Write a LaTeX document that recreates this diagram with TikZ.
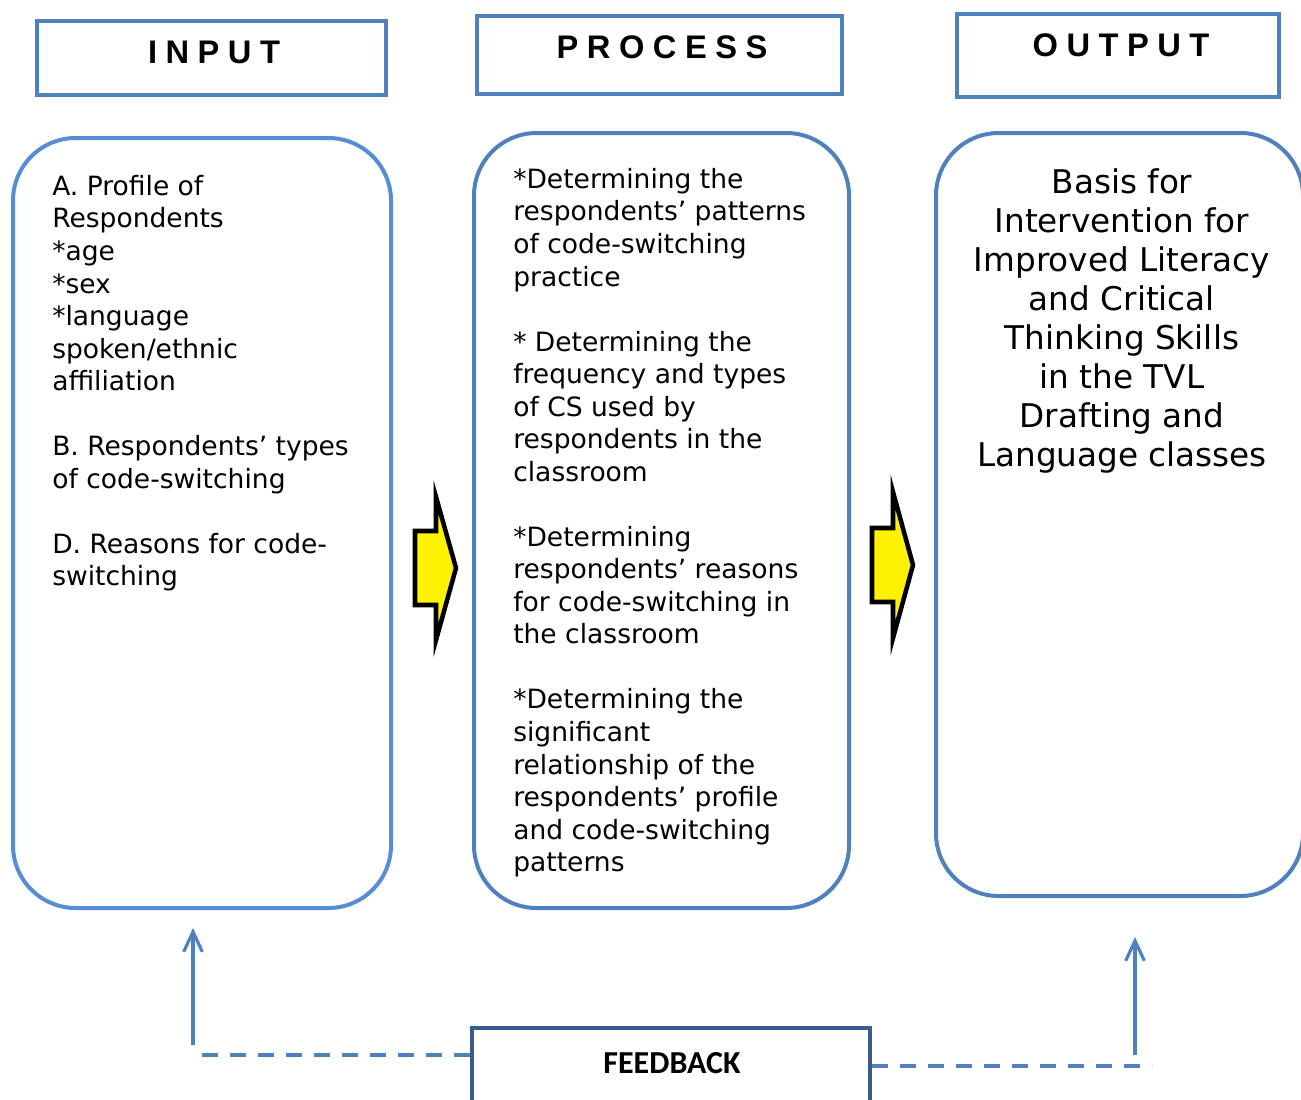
\documentclass[tikz,border=0pt]{standalone}
\usepackage{fontspec}
\setmainfont{DejaVu Sans}
\newfontfamily\headfont[LetterSpace=26]{Liberation Sans}
\newfontfamily\fbfont{Carlito}
\usetikzlibrary{fit,arrows.meta}
\definecolor{headblue}{RGB}{79,129,189}
\definecolor{lightblue}{RGB}{85,142,213}
\definecolor{fbblue}{RGB}{56,93,138}
\tikzset{
  headbox/.style={draw=headblue, line width=3pt, inner sep=0pt},
  headtext/.style={font=\headfont\bfseries\fontsize{24.5}{28}\selectfont, inner sep=0pt},
  roundbox/.style={draw=headblue, line width=3pt, rounded corners=47pt, inner sep=0pt},
  bodytext/.style={font=\fontsize{19.9}{24.4}\selectfont, align=left, inner sep=0pt, anchor=north west},
  flowarrow/.style={draw=black, fill=yellow, line width=3.4pt, line join=miter},
  fbdash/.style={draw=headblue, line width=3pt, dash pattern=on 12pt off 9pt},
  fbarrow/.style={draw=headblue, line width=2.6pt, -{Straight Barb[length=15pt,width=14pt,line width=2.4pt]}},
}
\begin{document}
\begin{tikzpicture}[x=0.75pt,y=0.75pt,yscale=-1]
\useasboundingbox (0,0) rectangle (1301,1099);
\clip (0,0) rectangle (1301,1099);

% headers
\node[headbox, fit={(37,21) (386,95)}] (inputhead) {};
\node[headbox, fit={(477,16) (842,94)}] (processhead) {};
\node[headbox, fit={(957,14) (1279,97)}] (outputhead) {};
\node[headtext] (inputlabel) at (214,52) {INPUT};
\node[headtext] (processlabel) at (662,47) {PROCESS};
\node[headtext] (outputlabel) at (1121,45) {OUTPUT};

% rounded boxes
\node[roundbox, draw=lightblue, fit={(13,138) (391,908)}] (inputbox) {};
\node[roundbox, fit={(474,133) (849,908)}] (processbox) {};
\node[roundbox, fit={(936,133) (1303,896)}] (outputbox) {};

\node[bodytext] (inputtext) at (52,175) {A. Profile of\\Respondents\\*age\\*sex\\*language\\spoken/ethnic\\affiliation\\[24.4pt]B. Respondents’ types\\of code-switching\\[24.4pt]D. Reasons for code-\\switching};
\node[bodytext] (processtext) at (513,168) {*Determining the\\respondents’ patterns\\of code-switching\\practice\\[24.4pt]* Determining the\\frequency and types\\of CS used by\\respondents in the\\classroom\\[24.4pt]*Determining\\respondents’ reasons\\for code-switching in\\the classroom\\[24.4pt]*Determining the\\significant\\relationship of the\\respondents’ profile\\and code-switching\\patterns};
\node[font=\fontsize{24.5}{29.25}\selectfont, align=center, inner sep=0pt, anchor=north] (outputtext) at (1122,168) {Basis for\\Intervention for\\Improved Literacy\\and Critical\\Thinking Skills\\in the TVL\\Drafting and\\Language classes};

% yellow arrows
\draw[flowarrow] (415,531) -- (436,531) -- (436,497) -- (456,568) -- (436,640) -- (436,605) -- (415,605) -- cycle;
\draw[flowarrow] (872,528) -- (893,528) -- (893,492) -- (913,565) -- (893,638) -- (893,602) -- (872,602) -- cycle;

% feedback
\node[draw=fbblue, line width=3pt, inner sep=0pt, fit={(472,1028) (870,1106)}] (feedback) {};
\node[font=\fbfont\bfseries\fontsize{24}{28}\selectfont, inner sep=0pt] (fblabel) at (672,1063) {FEEDBACK};
\coordinate (fbleft) at (193,1055);
\coordinate (fbright) at (1152,1066);
\coordinate (inbase) at (193,1045);
\coordinate (intip) at (193,928);
\coordinate (outbase) at (1135,1055);
\coordinate (outtip) at (1135,937);
\draw[fbdash] (feedback.west |- fbleft) -- (fbleft);
\draw[fbdash] (feedback.east |- fbright) -- (fbright);
\draw[fbarrow] (inbase) -- (intip);
\draw[fbarrow] (outbase) -- (outtip);
\end{tikzpicture}
\end{document}
